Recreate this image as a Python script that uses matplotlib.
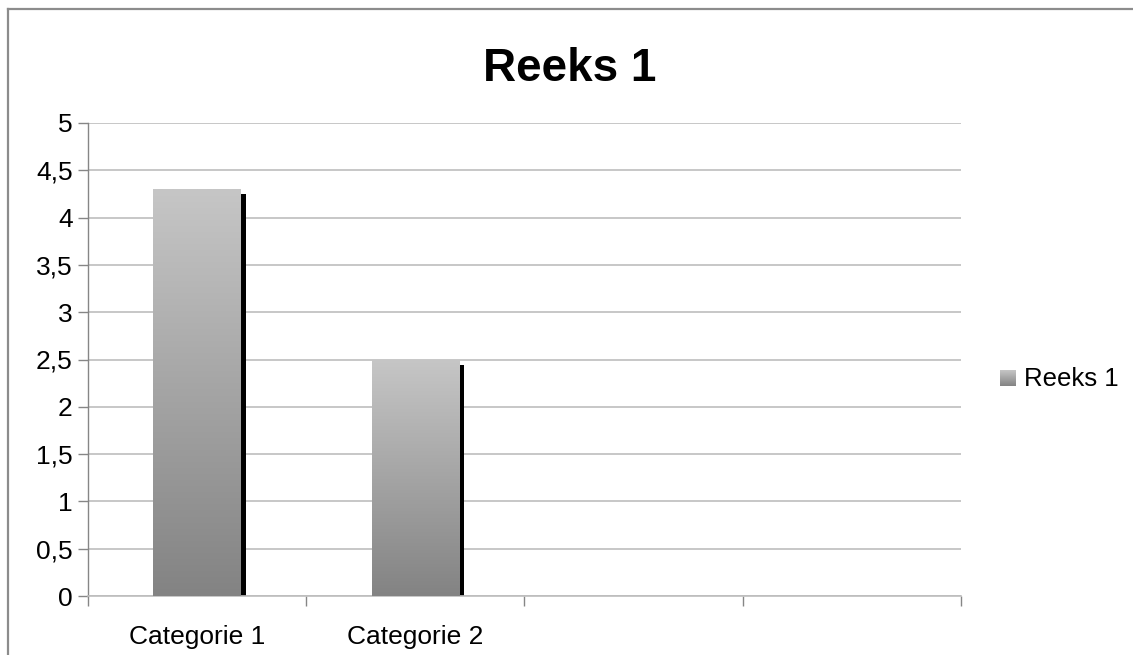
import numpy as np
import matplotlib
matplotlib.use("Agg")
import matplotlib.pyplot as plt
from matplotlib.ticker import FuncFormatter, MultipleLocator
from matplotlib.transforms import offset_copy
from matplotlib.lines import Line2D
from matplotlib.colors import LinearSegmentedColormap

plt.rcParams['font.family'] = ['Liberation Sans', 'DejaVu Sans']

title = "Reeks 1"
series_name = "Reeks 1"
categories = ["Categorie 1", "Categorie 2", "", ""]
values = [4.3, 2.5]

W, H = 1133, 655
fig = plt.figure(figsize=(W / 100, H / 100), dpi=100)

# chart frame (left and top edges visible)
frame_col = "#8c8c8c"
fig.add_artist(Line2D([8 / W, 8 / W], [0, 1 - 9 / H], transform=fig.transFigure,
                      color=frame_col, lw=1.6))
fig.add_artist(Line2D([8 / W, 1], [1 - 9 / H, 1 - 9 / H], transform=fig.transFigure,
                      color=frame_col, lw=1.6))

x0, x1, ytop, ybot = 88, 961, 123, 596
ax = fig.add_axes([x0 / W, (H - ybot) / H, (x1 - x0) / W, (ybot - ytop) / H])

n_slots = len(categories)
ax.set_xlim(0, n_slots)
ax.set_ylim(0, 5)

grid_col = "#bdbdbd"
axis_col = "#868686"
ax.yaxis.set_major_locator(MultipleLocator(0.5))
ax.yaxis.set_major_formatter(FuncFormatter(
    lambda v, p: (f"{v:.1f}".rstrip("0").rstrip(".")).replace(".", ",")))
ax.grid(axis="y", color=grid_col, lw=1.2)
ax.set_axisbelow(True)

for s in ["top", "right"]:
    ax.spines[s].set_visible(False)
ax.spines["left"].set_color(axis_col)
ax.spines["bottom"].set_color(grid_col)
ax.spines["left"].set_linewidth(1.0)
ax.spines["bottom"].set_linewidth(1.2)

centers = np.arange(n_slots) + 0.5
ax.set_xticks(centers)
ax.set_xticklabels(categories)
ax.set_xticks(np.arange(n_slots + 1), minor=True)
ax.tick_params(axis="x", which="major", length=0, pad=21, labelsize=19)
ax.tick_params(axis="x", which="minor", length=7, color=axis_col, width=1.0)
ax.tick_params(axis="y", length=7, color=axis_col, width=1.0, pad=4, labelsize=19)

bar_w = 0.40
xs = centers[:len(values)]

# shadow bars, shifted right and down
shadow_tr = offset_copy(ax.transData, fig=fig, x=5, y=-5, units="dots")
ax.bar(xs, values, width=bar_w, color="black", transform=shadow_tr, zorder=2)

# gradient-filled bars
bars = ax.bar(xs, values, width=bar_w, facecolor="none", edgecolor="none", zorder=3)
grad = np.linspace(0, 1, 256).reshape(-1, 1)
cmap = LinearSegmentedColormap.from_list("g", ["#838383", "#c6c6c6"])
for b in bars:
    bx, by = b.get_x(), b.get_y()
    bw, bh = b.get_width(), b.get_height()
    im = ax.imshow(grad, cmap=cmap, origin="lower", aspect="auto",
                   extent=[bx, bx + bw, by, by + bh], zorder=3,
                   interpolation="bilinear")
    im.set_clip_path(b)
ax.set_xlim(0, n_slots)
ax.set_ylim(0, 5)

fig.text(570 / W, 1 - 69 / H, title, ha="center", va="center",
         fontsize=33, fontweight="bold")

# legend
lax = fig.add_axes([1000 / W, (H - 386) / H, 16 / W, 16 / H])
lax.imshow(grad, cmap=cmap, origin="lower", aspect="auto", interpolation="bilinear")
lax.set_axis_off()
fig.text(1024 / W, 1 - 379 / H, series_name, ha="left", va="center", fontsize=18.5)

fig.savefig("out.png", dpi=100)
